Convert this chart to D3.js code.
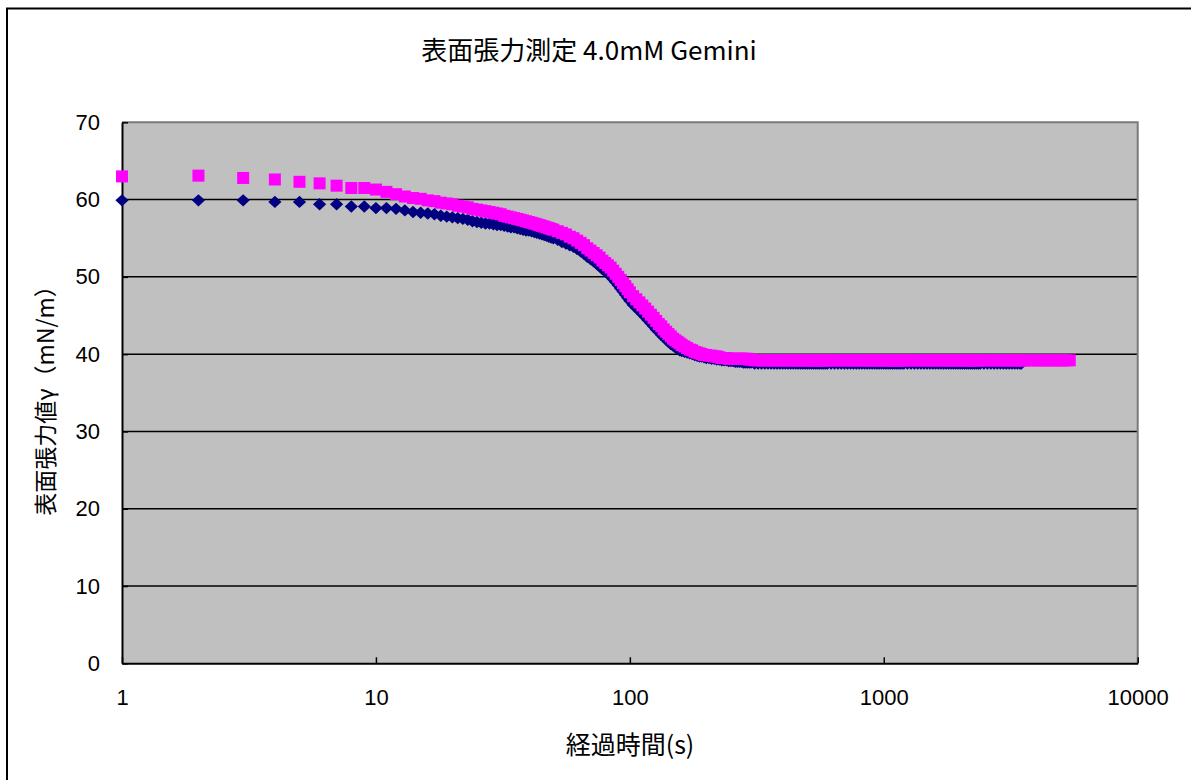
<!DOCTYPE html>
<html>
<head>
<meta charset="utf-8">
<script src="https://cdn.jsdelivr.net/npm/d3@7"></script>
<style>
  body { margin: 0; background: #ffffff; }
  svg { display: block; }
</style>
</head>
<body>
<svg id="chart" width="1191" height="780"></svg>
<script>
// ---- chart text ----
const chartTitle = "表面張力測定 4.0mM Gemini";
const xAxisTitle = "経過時間(s)";
const yAxisTitle = "表面張力値γ（mN/m）";

// ---- axis ticks ----
const xTickValues = [1, 10, 100, 1000, 10000];
const yTickValues = [0, 10, 20, 30, 40, 50, 60, 70];

// ---- elapsed time of each reading (s) ----
const timeSec = [
  1, 2, 3, 4, 5, 6, 7, 8, 9, 10,
  11, 12, 13, 14, 15, 16, 17, 18, 19, 20,
  21, 22, 23, 24, 25, 26, 27, 28, 29, 30,
  31, 32, 33, 34, 35, 36, 37, 38, 39, 40,
  41, 42, 43, 44, 45, 46, 47, 48, 49, 50,
  52, 54, 56, 58, 60, 62, 64, 66, 68, 70,
  72, 74, 76, 78, 80, 82, 84, 86, 88, 90,
  92, 94, 96, 98, 100,
  103, 106, 109, 112, 115, 118, 121, 124, 127, 130,
  133, 136, 139, 142, 145, 148, 151, 154, 157, 160,
  164, 168, 172, 176, 180, 184, 188, 192, 196, 200,
  205, 210, 215, 220, 225, 230, 235, 240, 245, 250,
  255, 260, 265, 270, 275, 280, 285, 290, 295, 300,
  310, 320, 330, 340, 350, 360, 370, 380, 390, 400,
  410, 420, 430, 440, 450, 460, 470, 480, 490, 500,
  510, 520, 530, 540, 550, 560, 570, 580, 590, 600,
  620, 640, 660, 680, 700, 720, 740, 760, 780, 800,
  820, 840, 860, 880, 900, 920, 940, 960, 980, 1000,
  1020, 1040, 1060, 1080, 1100, 1120, 1140, 1160, 1180, 1200,
  1240, 1280, 1320, 1360, 1400, 1440, 1480, 1520, 1560, 1600,
  1640, 1680, 1720, 1760, 1800, 1840, 1880, 1920, 1960, 2000,
  2040, 2080, 2120, 2160, 2200, 2240, 2280, 2320, 2360, 2400,
  2480, 2560, 2640, 2720, 2800, 2880, 2960, 3040, 3120, 3200,
  3280, 3360, 3440, 3480,
  3600, 3760, 3920, 4080, 4240, 4400, 4560, 4720, 4880, 5040,
  5200, 5400
];

// ---- surface tension, run 1 (navy diamonds), mN/m ----
const gammaRun1 = [
  59.9, 59.9, 59.9, 59.7, 59.7, 59.4, 59.4, 59.1, 59.1, 58.9,
  58.9, 58.8, 58.6, 58.4, 58.3, 58.2, 58.1, 57.9, 57.8, 57.7,
  57.6, 57.5, 57.4, 57.2, 57.1, 57.0, 56.9, 56.9, 56.8, 56.7,
  56.7, 56.6, 56.5, 56.4, 56.4, 56.3, 56.2, 56.1, 56.0, 56.0,
  55.9, 55.8, 55.7, 55.6, 55.5, 55.4, 55.3, 55.2, 55.1, 55.0,
  54.8, 54.5, 54.3, 54.1, 53.9, 53.6, 53.3, 53.0, 52.6, 52.3,
  52.0, 51.7, 51.4, 51.0, 50.7, 50.4, 50.1, 49.7, 49.3, 48.9,
  48.5, 48.1, 47.7, 47.3, 46.9,
  46.4, 46.0, 45.6, 45.2, 44.8, 44.4, 44.0, 43.6, 43.2, 42.9,
  42.5, 42.2, 41.9, 41.6, 41.3, 41.1, 40.9, 40.7, 40.5, 40.4,
  40.3, 40.2, 40.1, 40.0, 39.9, 39.8, 39.7, 39.7, 39.6, 39.5,
  39.5, 39.4, 39.4, 39.3, 39.3, 39.2, 39.2, 39.2, 39.1, 39.1,
  39.1, 39.0, 39.0, 39.0, 39.0, 38.9, 38.9, 38.9, 38.9, 38.9,
  38.8, 38.8, 38.8, 38.8, 38.8, 38.8, 38.8, 38.8, 38.8, 38.8,
  38.8, 38.8, 38.8, 38.8, 38.8, 38.8, 38.8, 38.8, 38.8, 38.8,
  38.8, 38.8, 38.8, 38.8, 38.8, 38.8, 38.8, 38.8, 38.8, 38.8,
  38.8, 38.8, 38.8, 38.8, 38.8, 38.8, 38.8, 38.8, 38.8, 38.8,
  38.8, 38.8, 38.8, 38.8, 38.8, 38.8, 38.8, 38.8, 38.8, 38.8,
  38.8, 38.8, 38.8, 38.8, 38.8, 38.8, 38.8, 38.8, 38.8, 38.8,
  38.8, 38.8, 38.8, 38.8, 38.8, 38.8, 38.8, 38.8, 38.8, 38.8,
  38.8, 38.8, 38.8, 38.8, 38.8, 38.8, 38.8, 38.8, 38.8, 38.8,
  38.8, 38.8, 38.8, 38.8, 38.8, 38.8, 38.8, 38.8, 38.8, 38.8,
  38.8, 38.8, 38.8, 38.8, 38.8, 38.8, 38.8, 38.8, 38.8, 38.8,
  38.8, 38.8, 38.8, 38.8
];

// ---- surface tension, run 2 (magenta squares), mN/m ----
const gammaRun2 = [
  63.0, 63.1, 62.8, 62.6, 62.3, 62.1, 61.8, 61.5, 61.5, 61.3,
  61.0, 60.7, 60.4, 60.2, 60.1, 59.9, 59.8, 59.6, 59.5, 59.4,
  59.2, 59.1, 59.0, 58.8, 58.7, 58.6, 58.5, 58.4, 58.3, 58.2,
  58.1, 57.9, 57.8, 57.7, 57.6, 57.5, 57.4, 57.3, 57.2, 57.1,
  57.0, 56.9, 56.8, 56.7, 56.6, 56.5, 56.4, 56.3, 56.2, 56.1,
  55.9, 55.7, 55.5, 55.2, 55.0, 54.7, 54.4, 54.1, 53.7, 53.4,
  53.1, 52.8, 52.5, 52.1, 51.8, 51.5, 51.2, 50.8, 50.4, 50.0,
  49.6, 49.2, 48.8, 48.4, 48.0,
  47.5, 47.1, 46.7, 46.3, 45.9, 45.5, 45.1, 44.7, 44.3, 43.9,
  43.6, 43.2, 42.9, 42.6, 42.3, 42.0, 41.8, 41.6, 41.4, 41.2,
  41.0, 40.8, 40.6, 40.5, 40.3, 40.2, 40.1, 40.0, 39.9, 39.9,
  39.8, 39.8, 39.7, 39.7, 39.6, 39.5, 39.5, 39.5, 39.4, 39.4,
  39.4, 39.4, 39.4, 39.4, 39.4, 39.4, 39.4, 39.4, 39.3, 39.3,
  39.2, 39.2, 39.2, 39.2, 39.2, 39.2, 39.2, 39.2, 39.2, 39.2,
  39.2, 39.2, 39.2, 39.2, 39.2, 39.2, 39.2, 39.2, 39.2, 39.2,
  39.2, 39.2, 39.2, 39.2, 39.2, 39.2, 39.2, 39.2, 39.2, 39.2,
  39.2, 39.2, 39.2, 39.2, 39.2, 39.2, 39.2, 39.2, 39.2, 39.2,
  39.2, 39.2, 39.2, 39.2, 39.2, 39.2, 39.2, 39.2, 39.2, 39.2,
  39.2, 39.2, 39.2, 39.2, 39.2, 39.2, 39.2, 39.2, 39.2, 39.2,
  39.2, 39.2, 39.2, 39.2, 39.2, 39.2, 39.2, 39.2, 39.2, 39.2,
  39.2, 39.2, 39.2, 39.2, 39.2, 39.2, 39.2, 39.2, 39.2, 39.2,
  39.2, 39.2, 39.2, 39.2, 39.2, 39.2, 39.2, 39.2, 39.2, 39.2,
  39.2, 39.2, 39.2, 39.2, 39.2, 39.2, 39.2, 39.2, 39.2, 39.2,
  39.2, 39.2, 39.2, 39.2,
  39.2, 39.2, 39.2, 39.2, 39.2, 39.2, 39.2, 39.2, 39.2, 39.2,
  39.2, 39.2
];

// ---- layout ----
const W = 1191, H = 780;
const plot = { left: 122, right: 1137.7, top: 122.3, bottom: 663.3 };
const latinFont = "'Liberation Sans', Arial, 'Noto Sans CJK JP', sans-serif";
const cjkFont = "'Noto Sans CJK JP', 'Liberation Sans', sans-serif";

const svg = d3.select("#chart");

// outer chart frame (runs off the right and bottom edges)
svg.append("rect")
  .attr("x", 7).attr("y", 8.5)
  .attr("width", W + 20).attr("height", H + 20)
  .attr("fill", "#ffffff")
  .attr("stroke", "#000000").attr("stroke-width", 2);

const x = d3.scaleLog().domain([1, 10000]).range([plot.left, plot.right]);
const y = d3.scaleLinear().domain([0, 70]).range([plot.bottom, plot.top]);

// plot area background
svg.append("rect")
  .attr("x", plot.left).attr("y", plot.top)
  .attr("width", plot.right - plot.left).attr("height", plot.bottom - plot.top)
  .attr("fill", "#c0c0c0");

// horizontal gridlines
svg.append("g")
  .selectAll("line")
  .data(yTickValues.filter(v => v > 0 && v < 70))
  .join("line")
  .attr("x1", plot.left).attr("x2", plot.right)
  .attr("y1", d => y(d)).attr("y2", d => y(d))
  .attr("stroke", "#000000").attr("stroke-width", 1.5);

// grey top and right border of the plot area
svg.append("path")
  .attr("d", `M${plot.left},${plot.top}H${plot.right}V${plot.bottom}`)
  .attr("fill", "none")
  .attr("stroke", "#7a7a7a").attr("stroke-width", 2);

// x axis (log scale, ticks pointing inward)
const xAxis = d3.axisBottom(x)
  .tickValues(xTickValues)
  .tickFormat(d3.format("d"))
  .tickSize(-6)
  .tickSizeOuter(0)
  .tickPadding(26);
const gx = svg.append("g")
  .attr("transform", `translate(0,${plot.bottom})`)
  .call(xAxis);
gx.select(".domain").attr("stroke", "#000").attr("stroke-width", 2);
gx.selectAll(".tick line").attr("stroke", "#000").attr("stroke-width", 1.5);
gx.selectAll(".tick text")
  .attr("font-family", latinFont).attr("font-size", 22).attr("fill", "#000");

// y axis (ticks pointing inward)
const yAxis = d3.axisLeft(y)
  .tickValues(yTickValues)
  .tickFormat(d3.format("d"))
  .tickSize(-6)
  .tickSizeOuter(0)
  .tickPadding(22);
const gy = svg.append("g")
  .attr("transform", `translate(${plot.left},0)`)
  .call(yAxis);
gy.select(".domain").attr("stroke", "#000").attr("stroke-width", 2);
gy.selectAll(".tick line").attr("stroke", "#000").attr("stroke-width", 1.5);
gy.selectAll(".tick text")
  .attr("font-family", latinFont).attr("font-size", 22).attr("fill", "#000");

// run 1: navy diamonds
const run1 = gammaRun1.map((g, i) => ({ t: timeSec[i], g }));
const diamond = "M0,-6.2L6.6,0L0,6.2L-6.6,0Z";
svg.append("g")
  .selectAll("path")
  .data(run1)
  .join("path")
  .attr("d", diamond)
  .attr("transform", d => `translate(${x(d.t)},${y(d.g)})`)
  .attr("fill", "#000080");

// run 2: magenta squares
const run2 = gammaRun2.map((g, i) => ({ t: timeSec[i], g }));
const half = 6;
svg.append("g")
  .selectAll("rect")
  .data(run2)
  .join("rect")
  .attr("x", d => x(d.t) - half)
  .attr("y", d => y(d.g) - half)
  .attr("width", half * 2).attr("height", half * 2)
  .attr("fill", "#ff00ff");

// titles
svg.append("text")
  .attr("x", 589).attr("y", 48)
  .attr("text-anchor", "middle").attr("dominant-baseline", "central")
  .attr("font-family", cjkFont).attr("font-size", 26)
  .text(chartTitle);

svg.append("text")
  .attr("x", 630).attr("y", 743)
  .attr("text-anchor", "middle").attr("dominant-baseline", "central")
  .attr("font-family", cjkFont).attr("font-size", 25)
  .text(xAxisTitle);

svg.append("text")
  .attr("transform", "translate(44,395) rotate(-90)")
  .attr("text-anchor", "middle").attr("dominant-baseline", "central")
  .attr("font-family", cjkFont).attr("font-size", 23)
  .text(yAxisTitle);
</script>
</body>
</html>
